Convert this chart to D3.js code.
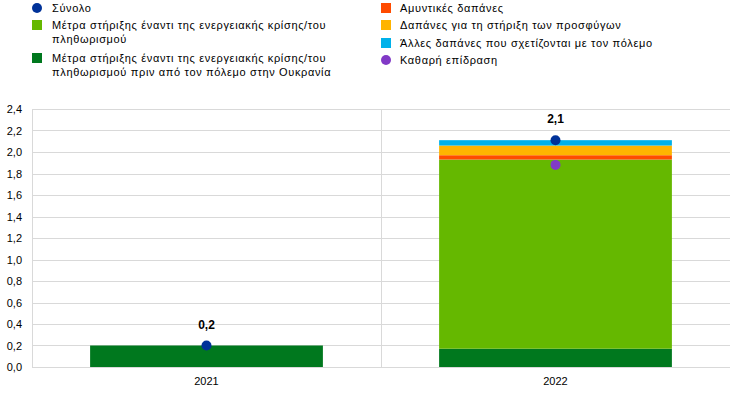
<!DOCTYPE html>
<html>
<head>
<meta charset="utf-8">
<script src="https://cdn.jsdelivr.net/npm/d3@7"></script>
<style>
  body { margin: 0; background: #fff; }
  text { font-family: "Liberation Sans", Arial, sans-serif; }
</style>
</head>
<body>
<div id="chart"></div>
<script>
// categories and series (percent of GDP)
var years = ["2021", "2022"]
var preWar = [0.2, 0.17]
var energySupport = [0, 1.76]
var defence = [0, 0.04]
var refugees = [0, 0.09]
var otherWar = [0, 0.05]
var total = [0.2, 2.11]
var netImpact = [null, 1.88]
var totalLabels = ["0,2", "2,1"]
var yTicks = [0, 0.2, 0.4, 0.6, 0.8, 1.0, 1.2, 1.4, 1.6, 1.8, 2.0, 2.2, 2.4]

var series = [
  {key: "preWar", name: "Μέτρα στήριξης έναντι της ενεργειακής κρίσης/του πληθωρισμού πριν από τον πόλεμο στην Ουκρανία", values: preWar, color: "#00781e"},
  {key: "energy", name: "Μέτρα στήριξης έναντι της ενεργειακής κρίσης/του πληθωρισμού", values: energySupport, color: "#65b800"},
  {key: "defence", name: "Αμυντικές δαπάνες", values: defence, color: "#ff4b00"},
  {key: "refugees", name: "Δαπάνες για τη στήριξη των προσφύγων", values: refugees, color: "#ffb400"},
  {key: "other", name: "Άλλες δαπάνες που σχετίζονται με τον πόλεμο", values: otherWar, color: "#00b1ea"}
]

var width = 742, height = 393
var margin = {top: 109, right: 12, bottom: 26, left: 32}

var svg = d3.select("#chart").append("svg")
  .attr("width", width)
  .attr("height", height)

var x = d3.scaleBand()
  .domain(years)
  .range([margin.left, width - margin.right])
  .paddingInner(0.333)
  .paddingOuter(0.1665)

var xOuter = d3.scaleBand()
  .domain(years)
  .range([margin.left, width - margin.right])

var y = d3.scaleLinear()
  .domain([0, 2.4])
  .range([height - margin.bottom, margin.top])

// gridlines
svg.append("g")
  .selectAll("line")
  .data(yTicks)
  .enter()
  .append("line")
    .attr("x1", margin.left)
    .attr("x2", width - margin.right)
    .attr("y1", function(d){ return Math.round(y(d)) + 0.5 })
    .attr("y2", function(d){ return Math.round(y(d)) + 0.5 })
    .attr("stroke", "#d9d9d9")
    .attr("stroke-width", 1)

// y axis labels
svg.append("g")
  .selectAll("text")
  .data(yTicks)
  .enter()
  .append("text")
    .attr("x", 22)
    .attr("y", function(d){ return y(d) + 4 })
    .attr("text-anchor", "end")
    .style("font-size", "11px")
    .attr("fill", "#000")
    .text(function(d){ return d3.format(".1f")(d).replace(".", ",") })

// left axis line and category separator
svg.append("line")
  .attr("x1", margin.left + 0.5).attr("x2", margin.left + 0.5)
  .attr("y1", y(2.4)).attr("y2", y(0))
  .attr("stroke", "#d9d9d9")
svg.append("line")
  .attr("x1", Math.round(xOuter("2022")) + 0.5).attr("x2", Math.round(xOuter("2022")) + 0.5)
  .attr("y1", y(2.4)).attr("y2", y(0))
  .attr("stroke", "#d9d9d9")

// stacked bars
var rows = years.map(function(yr, i){
  var r = {year: yr}
  series.forEach(function(s){ r[s.key] = s.values[i] })
  return r
})
var stack = d3.stack().keys(series.map(function(s){ return s.key }))
var stacked = stack(rows)

svg.append("g")
  .selectAll("g")
  .data(stacked)
  .enter()
  .append("g")
    .attr("fill", function(d, i){ return series[i].color })
  .selectAll("rect")
  .data(function(d){ return d })
  .enter()
  .append("rect")
    .attr("x", function(d){ return x(d.data.year) })
    .attr("width", x.bandwidth())
    .attr("y", function(d){ return y(d[1]) })
    .attr("height", function(d){ return y(d[0]) - y(d[1]) })

// x axis labels
svg.append("g")
  .selectAll("text")
  .data(years)
  .enter()
  .append("text")
    .attr("x", function(d){ return x(d) + x.bandwidth() / 2 })
    .attr("y", height - 8)
    .attr("text-anchor", "middle")
    .style("font-size", "11px")
    .text(function(d){ return d })

// net impact dots
svg.append("g")
  .selectAll("circle")
  .data(years.map(function(yr, i){ return {year: yr, v: netImpact[i]} }).filter(function(d){ return d.v != null }))
  .enter()
  .append("circle")
    .attr("cx", function(d){ return x(d.year) + x.bandwidth() / 2 })
    .attr("cy", function(d){ return y(d.v) })
    .attr("r", 5)
    .attr("fill", "#8139c6")

// total dots
svg.append("g")
  .selectAll("circle")
  .data(years.map(function(yr, i){ return {year: yr, v: total[i], label: totalLabels[i]} }))
  .enter()
  .append("circle")
    .attr("cx", function(d){ return x(d.year) + x.bandwidth() / 2 })
    .attr("cy", function(d){ return y(d.v) })
    .attr("r", 5)
    .attr("fill", "#003299")

// total labels
svg.append("g")
  .selectAll("text")
  .data(years.map(function(yr, i){ return {year: yr, v: total[i], label: totalLabels[i]} }))
  .enter()
  .append("text")
    .attr("x", function(d){ return x(d.year) + x.bandwidth() / 2 })
    .attr("y", function(d){ return y(d.v) - 17 })
    .attr("text-anchor", "middle")
    .style("font-size", "12px")
    .style("font-weight", 700)
    .text(function(d){ return d.label })

// legend
var legendLeft = [
  {type: "circle", color: "#003299", lines: ["Σύνολο"], y: 8},
  {type: "rect", color: "#65b800", lines: ["Μέτρα στήριξης έναντι της ενεργειακής κρίσης/του", "πληθωρισμού"], y: 25},
  {type: "rect", color: "#00781e", lines: ["Μέτρα στήριξης έναντι της ενεργειακής κρίσης/του", "πληθωρισμού πριν από τον πόλεμο στην Ουκρανία"], y: 58}
]
var legendRight = [
  {type: "rect", color: "#ff4b00", lines: ["Αμυντικές δαπάνες"], y: 8},
  {type: "rect", color: "#ffb400", lines: ["Δαπάνες για τη στήριξη των προσφύγων"], y: 25},
  {type: "circle", color: "#8139c6", lines: ["Καθαρή επίδραση"], y: 60}
]
legendRight.splice(2, 0, {type: "rect", color: "#00b1ea", lines: ["Άλλες δαπάνες που σχετίζονται με τον πόλεμο"], y: 43})

function drawLegend(items, mx, tx){
  var g = svg.append("g")
  items.forEach(function(it){
    if(it.type == "circle")
      g.append("circle").attr("cx", mx).attr("cy", it.y).attr("r", 5).attr("fill", it.color)
    else
      g.append("rect").attr("x", mx - 5).attr("y", it.y - 5).attr("width", 10).attr("height", 10).attr("fill", it.color)
    it.lines.forEach(function(l, j){
      g.append("text")
        .attr("x", tx)
        .attr("y", it.y + 4 + j * 14)
        .style("font-size", "11px")
        .style("letter-spacing", "0.65px")
        .text(l)
    })
  })
}
drawLegend(legendLeft, 37, 52)
drawLegend(legendRight, 386, 400)
</script>
</body>
</html>
